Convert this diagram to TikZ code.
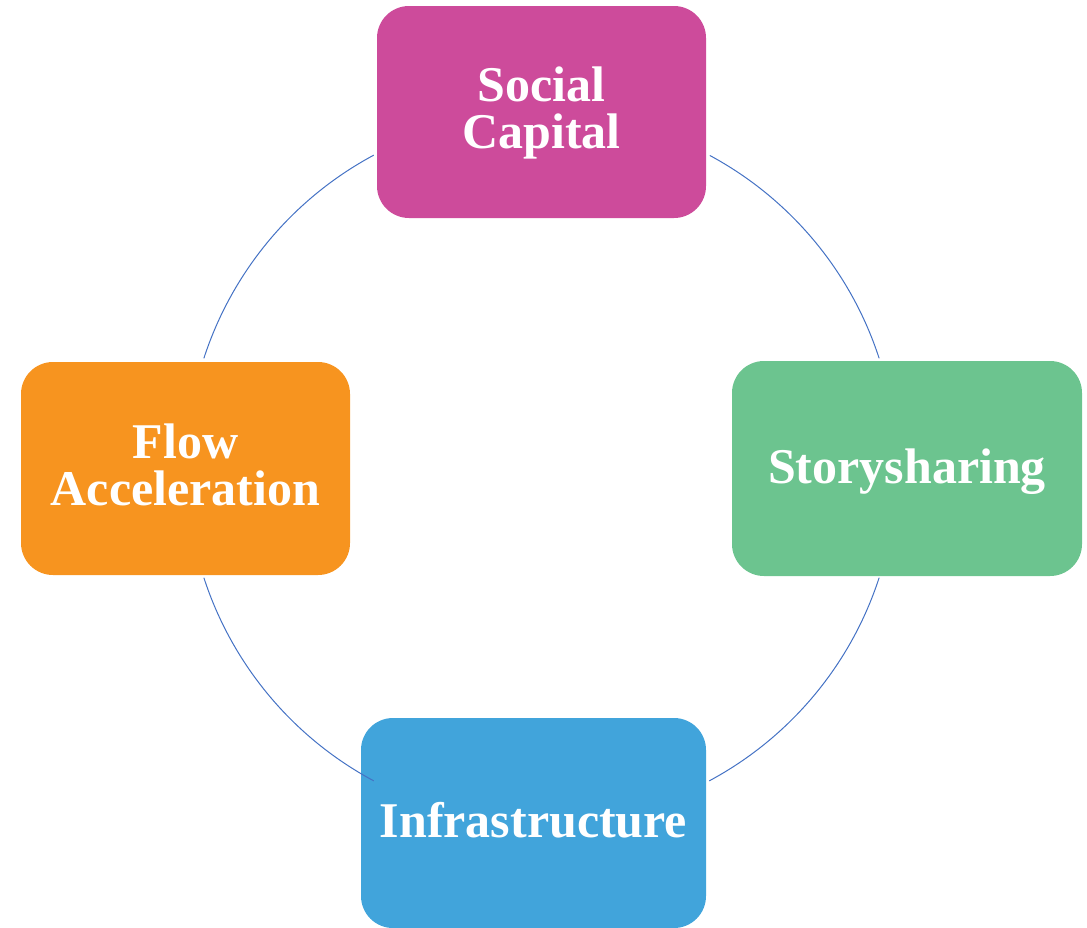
\documentclass[tikz,border=0pt]{standalone}
\usepackage{fontspec}
\setmainfont{Liberation Serif}
\definecolor{cmag}{HTML}{CD4B9B}
\definecolor{cgreen}{HTML}{6CC48F}
\definecolor{corange}{HTML}{F7941F}
\definecolor{cblue}{HTML}{41A4DB}
\definecolor{cline}{HTML}{4472C4}
\begin{document}
\begin{tikzpicture}[x=1pt,y=-1pt,
  box/.style={rectangle, rounded corners=32pt, inner sep=0pt, draw=none,
    text=white, align=center, font=\fontsize{50}{46.5}\selectfont\bfseries},
  ring/.style={draw=cline, line width=1pt}]
\useasboundingbox (0,0) rectangle (1087,927);
\coordinate (ctr) at (541.5,468);
% boxes
\node[box, fill=cmag, minimum width=329pt, minimum height=212pt] (soc) at (541.5,112) {};
\node[box, fill=cgreen, minimum width=350pt, minimum height=215pt] (story) at (907,468.5) {};
\node[box, fill=corange, minimum width=329pt, minimum height=213pt] (flow) at (185.5,468.5) {};
\node[box, fill=cblue, minimum width=345pt, minimum height=210pt] (infra) at (533.5,823) {};
% ring arcs
\draw[ring] ([shift={(198:355)}]ctr) arc[start angle=198, end angle=241.8, radius=355];
\draw[ring] ([shift={(298.3:355)}]ctr) arc[start angle=298.3, end angle=342, radius=355];
\draw[ring] ([shift={(18:355)}]ctr) arc[start angle=18, end angle=61.8, radius=355];
\draw[ring] ([shift={(118.2:355)}]ctr) arc[start angle=118.2, end angle=162, radius=355];
% labels
\node[box, anchor=base] (soct) at (541.5,148) {Social\\Capital};
\node[box, anchor=base] (storyt) at (907,483) {Storysharing};
\node[box, anchor=base] (flowt) at (185.5,505) {Flow\\Acceleration};
\node[box, anchor=base] (infrat) at (533.5,837) {Infrastructure};
\end{tikzpicture}
\end{document}
